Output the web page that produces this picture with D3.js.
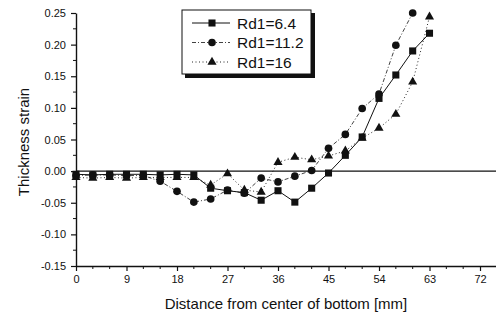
<!DOCTYPE html>
<html><head><meta charset="utf-8">
<script src="https://cdn.jsdelivr.net/npm/d3@7"></script>
<style>body{margin:0;background:#fff}svg{display:block}text{font-family:"Liberation Sans",Arial,sans-serif;fill:#111}</style>
</head><body><svg id="c" width="496" height="320"></svg>
<script>
const distance = [0,3,6,9,12,15,18,21,24,27,30,33,36,39,42,45,48,51,54,57,60,63];
const rd64  = [-0.005,-0.006,-0.005,-0.005,-0.005,-0.006,-0.005,-0.006,-0.027,-0.031,-0.034,-0.046,-0.031,-0.049,-0.027,-0.003,0.025,0.054,0.115,0.152,0.190,0.218];
const rd112 = [-0.007,-0.006,-0.006,-0.007,-0.007,-0.016,-0.032,-0.049,-0.044,-0.030,-0.035,-0.011,-0.017,-0.008,0.001,0.036,0.058,0.099,0.122,0.199,0.250];
const rd16  = [-0.010,-0.011,-0.010,-0.011,-0.010,-0.010,-0.010,-0.010,-0.022,-0.004,-0.030,-0.033,0.014,0.022,0.018,0.024,0.032,0.052,0.068,0.090,0.141,0.244];
const seriesNames = ["Rd1=6.4","Rd1=11.2","Rd1=16"];
const xTicks = [0,9,18,27,36,45,54,63,72];
const yTicks = [0.25,0.20,0.15,0.10,0.05,0.00,-0.05,-0.10,-0.15];

const svg = d3.select("#c");
const x = d3.scaleLinear().domain([0,74.85]).range([76,496]);
const y = d3.scaleLinear().domain([-0.15,0.25]).range([266,13]);

const series = [
  {name:seriesNames[0], vals:rd64, sym:d3.symbolSquare, size:50, dash:null, w:1},
  {name:seriesNames[1], vals:rd112, sym:d3.symbolCircle, size:46, dash:"4,2,1,2", w:0.8},
  {name:seriesNames[2], vals:rd16, sym:d3.symbolTriangle, size:36, dash:"1,2.5", w:0.9}
];

// zero line
svg.append("line").attr("x1",x(0)).attr("x2",496).attr("y1",y(0)).attr("y2",y(0))
  .attr("stroke","#111").attr("stroke-width",1.4);

// axes
const xAxis = d3.axisBottom(x).tickValues(xTicks).tickFormat(d3.format("d")).tickSize(5).tickSizeOuter(0);
const gx = svg.append("g").attr("transform",`translate(0,${y(-0.15)})`).call(xAxis);
gx.select(".domain").attr("stroke","#111").attr("stroke-width",1.4);
gx.selectAll(".tick line").attr("stroke","#111").attr("stroke-width",1.2);
gx.selectAll("text").attr("font-size",11).attr("dy","0.85em");
const xMinor = d3.range(0,75,3).filter(v=>v%9!==0);
gx.selectAll(".minor").data(xMinor).enter().append("line")
  .attr("x1",d=>x(d)).attr("x2",d=>x(d)).attr("y1",0).attr("y2",3).attr("stroke","#111");

const yAxis = d3.axisLeft(y).tickValues(yTicks).tickFormat(d=>d3.format(".2f")(d).replace("−","-")).tickSize(5).tickSizeOuter(0);
const gy = svg.append("g").attr("transform",`translate(${x(0)},0)`).call(yAxis);
gy.select(".domain").attr("stroke","#111").attr("stroke-width",1.4);
gy.selectAll(".tick line").attr("stroke","#111").attr("stroke-width",1.2);
gy.selectAll("text").attr("font-size",11).attr("x",-10);
const yMinor = d3.range(-0.125,0.25,0.05);
gy.selectAll(".minor").data(yMinor).enter().append("line")
  .attr("x1",0).attr("x2",-3).attr("y1",d=>y(d)).attr("y2",d=>y(d)).attr("stroke","#111");

// series
series.forEach(s=>{
  const pts = s.vals.map((v,i)=>[distance[i],v]);
  svg.append("path").datum(pts)
    .attr("d",d3.line().x(d=>x(d[0])).y(d=>y(d[1])))
    .attr("fill","none").attr("stroke","#111").attr("stroke-width",s.w)
    .attr("stroke-dasharray",s.dash);
  svg.append("g").selectAll("path").data(pts).enter().append("path")
    .attr("d",d3.symbol().type(s.sym).size(s.size))
    .attr("transform",d=>`translate(${x(d[0])},${y(d[1])})`)
    .attr("fill","#111");
});

// legend
const lg = svg.append("g");
lg.append("rect").attr("x",185).attr("y",13).attr("width",130).attr("height",65).attr("fill","#111");
lg.append("rect").attr("x",182).attr("y",10).attr("width",129).attr("height",64).attr("fill","#fff").attr("stroke","#111").attr("stroke-width",1);
series.forEach((s,i)=>{
  const yy = 23 + i*19.5;
  lg.append("line").attr("x1",192).attr("x2",230).attr("y1",yy).attr("y2",yy)
    .attr("stroke","#111").attr("stroke-width",s.w).attr("stroke-dasharray",s.dash);
  lg.append("path").attr("d",d3.symbol().type(s.sym).size(s.size)).attr("transform",`translate(212,${yy})`).attr("fill","#111");
  lg.append("text").attr("x",237).attr("y",yy+5.5).attr("font-size",15.5).text(s.name);
});

// axis titles
svg.append("text").attr("transform","translate(29,142) rotate(-90)").attr("text-anchor","middle")
  .attr("font-size",15).text("Thickness strain");
svg.append("text").attr("x",286).attr("y",309).attr("text-anchor","middle")
  .attr("font-size",15).text("Distance from center of bottom [mm]");
</script></body></html>
